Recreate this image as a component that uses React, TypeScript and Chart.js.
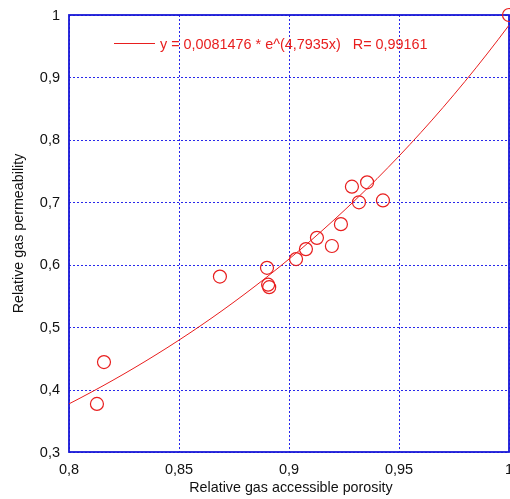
import React, { useEffect, useRef } from "react";
import { Chart, registerables } from "chart.js";

Chart.register(...registerables);

const porosity = [0.8127, 0.8159, 0.8686, 0.89, 0.8905, 0.891, 0.9032, 0.9077, 0.9127, 0.9195, 0.9236, 0.9286, 0.9318, 0.9355, 0.9427, 1.0];
const permeability = [0.377, 0.444, 0.581, 0.595, 0.568, 0.564, 0.609, 0.625, 0.643, 0.63, 0.665, 0.725, 0.7, 0.732, 0.703, 1.0];

const FIT_A = 0.0081476;
const FIT_B = 4.7935;
const FIT_LABEL = "y = 0,0081476 * e^(4,7935x)   R= 0,99161";
const X_TITLE = "Relative gas accessible porosity";
const Y_TITLE = "Relative gas permeability";
const fitX = Array.from({ length: 41 }, (_, i) => 0.8 + i * 0.005);

const RED = "rgb(232,30,30)";
const BLUE = "rgb(25,25,215)";
const GRID = "rgb(40,40,235)";
const TEXT = "#111";
const FONT = "'Liberation Sans', Arial, sans-serif";

const fmt = (v: number) => {
  const r = Math.round(v * 1000) / 1000;
  return String(r).replace(".", ",");
};

export default function App() {
  const ref = useRef<HTMLCanvasElement | null>(null);
  useEffect(() => {
    document.body.style.margin = "0";
    const ctx = ref.current!.getContext("2d")!;
    const framePlugin = {
      id: "frame",
      beforeDatasetsDraw(chart: any) {
        const { ctx, chartArea: a, scales } = chart;
        ctx.save();
        ctx.strokeStyle = GRID;
        ctx.lineWidth = 1;
        ctx.setLineDash([2, 2]);
        scales.x.ticks.forEach((t: any) => {
          const px = Math.round(scales.x.getPixelForValue(t.value)) + 0.5;
          ctx.beginPath();
          ctx.moveTo(px, a.top);
          ctx.lineTo(px, a.bottom);
          ctx.stroke();
        });
        scales.y.ticks.forEach((t: any) => {
          const py = Math.round(scales.y.getPixelForValue(t.value)) + 0.5;
          ctx.beginPath();
          ctx.moveTo(a.left, py);
          ctx.lineTo(a.right, py);
          ctx.stroke();
        });
        ctx.setLineDash([]);
        ctx.strokeStyle = BLUE;
        ctx.lineWidth = 1.8;
        ctx.strokeRect(a.left, a.top, a.right - a.left, a.bottom - a.top);
        ctx.restore();
      },
      afterDraw(chart: any) {
        const { ctx, chartArea: a, scales } = chart;
        ctx.save();
        ctx.fillStyle = TEXT;
        ctx.font = `14.5px ${FONT}`;
        ctx.textAlign = "center";
        ctx.textBaseline = "alphabetic";
        scales.x.ticks.forEach((t: any) => {
          ctx.fillText(fmt(t.value), scales.x.getPixelForValue(t.value), 474);
        });
        ctx.textAlign = "right";
        ctx.textBaseline = "middle";
        scales.y.ticks.forEach((t: any) => {
          ctx.fillText(fmt(t.value), a.left - 9, scales.y.getPixelForValue(t.value) + 0.5);
        });
        ctx.font = `14.3px ${FONT}`;
        ctx.textAlign = "center";
        ctx.textBaseline = "alphabetic";
        ctx.fillText(X_TITLE, 291, 492);
        ctx.save();
        ctx.translate(23, (a.top + a.bottom) / 2);
        ctx.rotate(-Math.PI / 2);
        ctx.fillText(Y_TITLE, 0, 0);
        ctx.restore();
        ctx.strokeStyle = RED;
        ctx.lineWidth = 1;
        ctx.beginPath();
        ctx.moveTo(114, 43.5);
        ctx.lineTo(155, 43.5);
        ctx.stroke();
        ctx.fillStyle = RED;
        ctx.font = `14.4px ${FONT}`;
        ctx.textAlign = "left";
        ctx.textBaseline = "alphabetic";
        ctx.fillText(FIT_LABEL, 160, 49);
        ctx.restore();
      },
    };
    const chart = new Chart(ctx, {
      type: "scatter",
      data: {
        datasets: [
          {
            type: "line",
            data: fitX.map((x) => ({ x, y: FIT_A * Math.exp(FIT_B * x) })),
            borderColor: RED,
            borderWidth: 1,
            pointRadius: 0,
            fill: false,
          } as any,
          {
            data: porosity.map((x, i) => ({ x, y: permeability[i] })),
            borderColor: RED,
            backgroundColor: "rgba(0,0,0,0)",
            borderWidth: 1.2,
            pointRadius: 6.5,
            clip: false,
          } as any,
        ],
      },
      plugins: [framePlugin],
      options: {
        animation: false,
        responsive: false,
        maintainAspectRatio: false,
        layout: { autoPadding: false, padding: { top: 15, right: 1, left: 0, bottom: 0 } },
        plugins: { legend: { display: false }, tooltip: { enabled: false } },
        scales: {
          x: {
            type: "linear",
            min: 0.8,
            max: 1,
            afterFit(scale: any) {
              scale.height = 47;
            },
            ticks: { stepSize: 0.05, display: false },
            grid: { display: false },
            border: { display: false },
            title: { display: false, text: X_TITLE },
          },
          y: {
            type: "linear",
            min: 0.3,
            max: 1,
            afterFit(scale: any) {
              scale.width = 69;
            },
            ticks: { stepSize: 0.1, display: false },
            grid: { display: false },
            border: { display: false },
            title: { display: false, text: Y_TITLE },
          },
        },
      },
    } as any);
    return () => chart.destroy();
  }, []);
  return (
    <div style={{ width: 510, height: 499, background: "#fff" }}>
      <canvas ref={ref} width={510} height={499} style={{ display: "block" }} />
    </div>
  );
}
